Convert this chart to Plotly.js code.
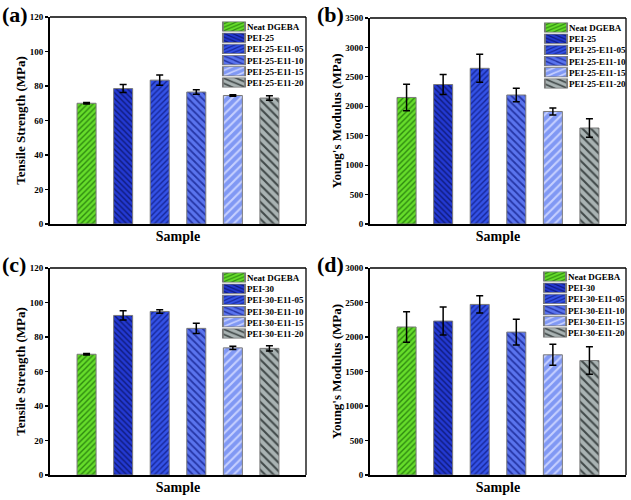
<!DOCTYPE html>
<html>
<head>
<meta charset="utf-8">
<script src="https://cdn.plot.ly/plotly-3.0.1.min.js"></script>
<style>
  html, body { margin: 0; padding: 0; background: #fff; }
  #chart { width: 631px; height: 500px; }
</style>
</head>
<body>
<div id="chart"></div>
<script>
// ---- data ----
var samples25 = ['Neat DGEBA', 'PEI-25', 'PEI-25-E11-05', 'PEI-25-E11-10', 'PEI-25-E11-15', 'PEI-25-E11-20'];
var samples30 = ['Neat DGEBA', 'PEI-30', 'PEI-30-E11-05', 'PEI-30-E11-10', 'PEI-30-E11-15', 'PEI-30-E11-20'];

var tensile25 = [70.0, 78.5, 83.4, 76.5, 74.5, 73.0];
var tensile25Err = [0.5, 2.3, 3.0, 1.3, 0.4, 1.3];
var modulus25 = [2150, 2370, 2645, 2192, 1912, 1631];
var modulus25Err = [225, 170, 238, 114, 60, 158];

var tensile30 = [70.0, 92.5, 94.8, 85.0, 73.7, 73.4];
var tensile30Err = [0.5, 2.7, 1.0, 2.9, 0.9, 1.5];
var modulus30 = [2145, 2231, 2472, 2071, 1742, 1659];
var modulus30Err = [222, 203, 125, 186, 152, 198];

var panelLabels = ['(a)', '(b)', '(c)', '(d)'];
var yTitles = ['Tensile Strength (MPa)', "Young's Modulus (MPa)", 'Tensile Strength (MPa)', "Young's Modulus (MPa)"];
var xTitle = 'Sample';

// ---- styles ----
var bgColors = ['#66dd2a', '#2339d2', '#3452e6', '#5a74ee', '#8098f4', '#a9b3b3'];
var fgColors = ['#2e8a10', '#0f1a7a', '#17279a', '#2636a6', '#c6d0ff', '#424a4a'];
var shapes_ = ['/', '\\', '/', '\\', '/', '\\'];
var sizes_ = [4, 4, 4, 5, 6, 6];
var FONT = 'Liberation Serif, Times New Roman, serif';

var panels = [
  {names: samples25, y: tensile25, e: tensile25Err, range: [0, 120], dtick: 20},
  {names: samples25, y: modulus25, e: modulus25Err, range: [0, 3500], dtick: 500},
  {names: samples30, y: tensile30, e: tensile30Err, range: [0, 120], dtick: 20},
  {names: samples30, y: modulus30, e: modulus30Err, range: [0, 3000], dtick: 500}
];

var W = 631, H = 500;
// plot areas in px [left, right, top, bottom]
var boxes = [
  [50, 306, 17, 224],
  [370, 626, 18, 224],
  [50, 306, 268, 475],
  [370, 626, 268, 475]
];
var legendPos = [[207, 12], [529, 13], [207, 263], [528, 262]];

var data = [];
var layout = {
  width: W, height: H,
  margin: {l: 0, r: 0, t: 0, b: 0},
  paper_bgcolor: '#fff', plot_bgcolor: '#fff',
  barmode: 'overlay',
  showlegend: true,
  font: {family: FONT, color: '#000'},
  annotations: [],
  shapes: []
};

panels.forEach(function (p, k) {
  var sx = k === 0 ? '' : String(k + 1);
  var xa = 'x' + sx, ya = 'y' + sx;
  var lg = k === 0 ? 'legend' : 'legend' + (k + 1);
  p.names.forEach(function (nm, i) {
    data.push({
      type: 'bar',
      name: nm,
      x: [nm],
      y: [p.y[i]],
      width: 0.52,
      xaxis: xa, yaxis: ya,
      legend: lg,
      marker: {
        color: bgColors[i],
        line: {color: '#7a7a7a', width: 1},
        pattern: {shape: shapes_[i], fgcolor: fgColors[i], bgcolor: bgColors[i], size: sizes_[i], solidity: 0.35, fillmode: 'replace'}
      },
      error_y: {type: 'data', array: [p.e[i]], visible: true, color: '#000', thickness: 1.5, width: 3.5}
    });
  });
  var b = boxes[k];
  layout['xaxis' + sx] = {
    domain: [b[0] / W, b[1] / W],
    anchor: ya,
    type: 'category',
    categoryarray: p.names,
    range: [-1, 6],
    showticklabels: false,
    ticks: '',
    showgrid: false, zeroline: false,
    showline: true, linecolor: '#000', linewidth: 2,
    title: {text: xTitle, font: {family: FONT, size: 14, weight: 'bold', color: '#000'}, standoff: 6}
  };
  layout['yaxis' + sx] = {
    domain: [1 - b[3] / H, 1 - b[2] / H],
    anchor: xa,
    range: p.range,
    dtick: p.dtick,
    ticks: 'outside', ticklen: 3, tickwidth: 1.2, tickcolor: '#000',
    tickfont: {family: FONT, size: 9, weight: 'bold', color: '#000'},
    showgrid: false, zeroline: false,
    showline: true, linecolor: '#000', linewidth: 2,
    title: {text: yTitles[k], font: {family: FONT, size: 13, weight: 'bold', color: '#000'}, standoff: 1}
  };
  layout.shapes.push(
    {type: 'line', xref: xa + ' domain', yref: ya + ' domain', x0: 0, x1: 1, y0: 1, y1: 1, line: {color: '#000', width: 1.3}},
    {type: 'line', xref: xa + ' domain', yref: ya + ' domain', x0: 1, x1: 1, y0: 0, y1: 1, line: {color: '#000', width: 1.3}}
  );
  var lp = legendPos[k];
  layout[lg] = {
    x: lp[0] / W, y: 1 - lp[1] / H, xanchor: 'left', yanchor: 'top',
    bgcolor: 'rgba(0,0,0,0)', borderwidth: 0,
    font: {family: FONT, size: 9, weight: 'bold', color: '#000'},
    itemclick: false, itemdoubleclick: false,
    tracegroupgap: 0
  };
  layout.annotations.push({
    text: panelLabels[k], showarrow: false,
    xref: 'paper', yref: 'paper',
    x: (k % 2 === 0 ? 0 : 315) / W, y: 1 - (k < 2 ? 0 : 250) / H,
    xanchor: 'left', yanchor: 'top',
    font: {family: FONT, size: 22, weight: 'bold', color: '#000'}
  });
});

var ROW = 11.2;
var gd = document.getElementById('chart');
Plotly.newPlot(gd, data, layout, {staticPlot: true, responsive: false}).then(function () {
  var legends = gd.querySelectorAll('g.legend, g.legend2, g.legend3, g.legend4');
  legends.forEach(function (lg) {
    var items = lg.querySelectorAll('g.traces');
    var y0 = null;
    items.forEach(function (it, i) {
      var tr = it.getAttribute('transform') || 'translate(0,0)';
      var m = /translate\(\s*([-\d.e]+)[ ,]+([-\d.e]+)\s*\)/.exec(tr);
      var x = m ? +m[1] : 0, y = m ? +m[2] : 0;
      if (y0 === null) y0 = y;
      it.setAttribute('transform', 'translate(' + x + ',' + (y0 + i * ROW) + ')');
      var pth = it.querySelector('.legendpoints path');
      if (pth) pth.setAttribute('transform', 'translate(27,0) scale(1.85,0.78)');
    });
  });
});
</script>
</body>
</html>
